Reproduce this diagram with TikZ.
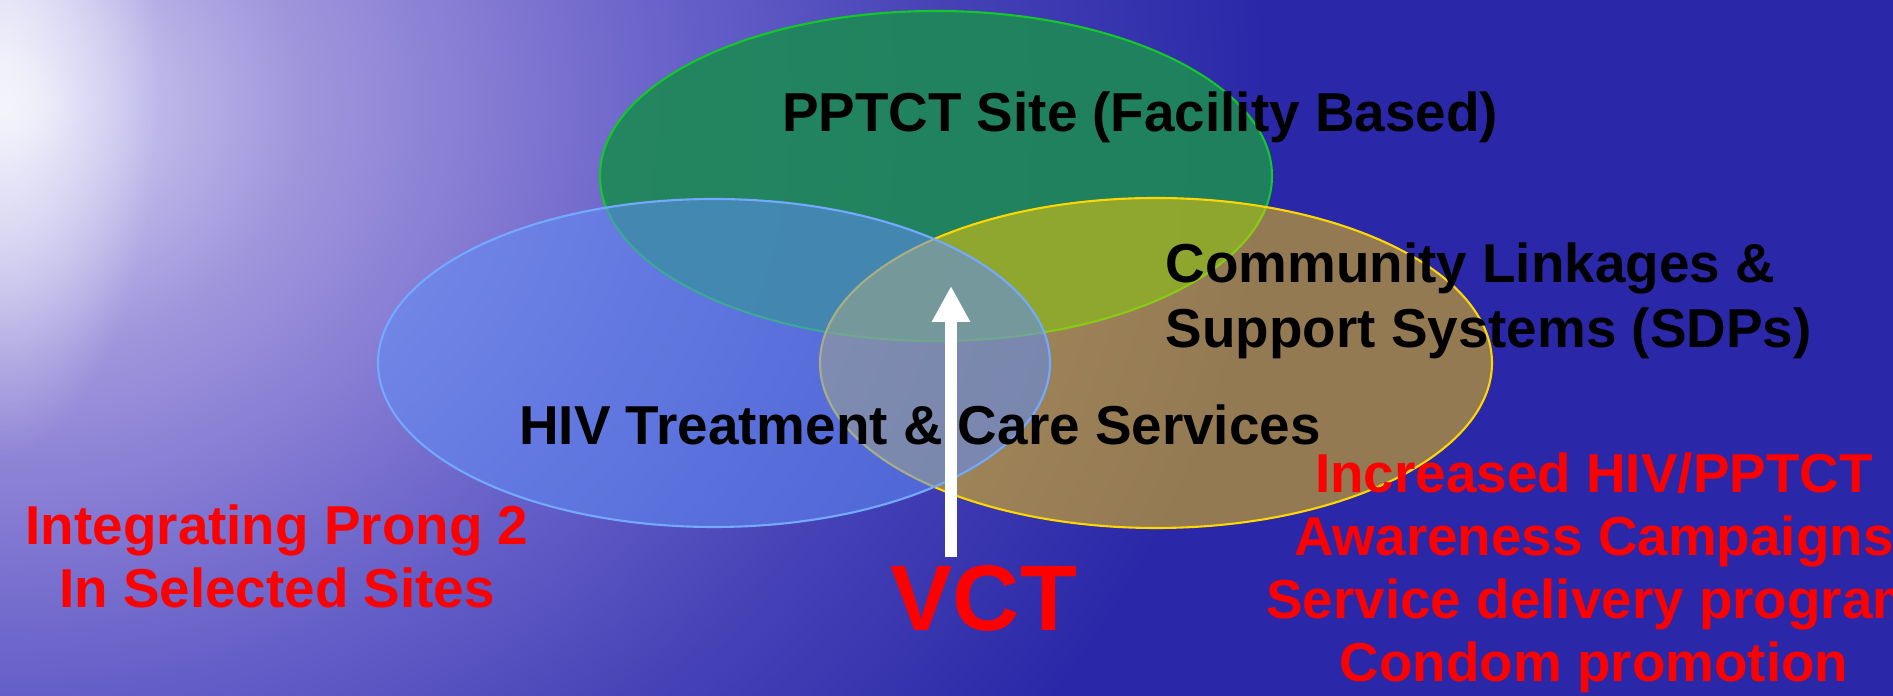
\documentclass[tikz,border=0pt]{standalone}
\usepackage{fontspec}
\setmainfont{Liberation Sans}
\usepackage{tikz}
\usetikzlibrary{arrows.meta, fadings}

\definecolor{sea}{RGB}{42,40,168}
\definecolor{glint}{RGB}{244,244,252}
\definecolor{hazeA}{RGB}{205,202,240}
\definecolor{hazeB}{RGB}{160,150,220}
\definecolor{hazeC}{RGB}{130,120,210}
\definecolor{hazeD}{RGB}{100,95,200}
\definecolor{hazeE}{RGB}{70,66,182}
\definecolor{siteg}{RGB}{30,136,88}
\definecolor{sitegl}{RGB}{20,200,40}
\definecolor{carebl}{RGB}{95,140,245}
\definecolor{carebll}{RGB}{115,170,255}
\definecolor{commy}{RGB}{255,205,0}
\definecolor{commyl}{RGB}{255,215,0}

% light on the water, top left (path edge sits at 25bp)
\pgfdeclareradialshading{glare}{\pgfpoint{0bp}{0bp}}{color(0bp)=(glint); color(1.6bp)=(hazeA); color(5.9bp)=(hazeB); color(10bp)=(hazeC); color(13.8bp)=(hazeD); color(18.8bp)=(hazeE); color(25bp)=(sea); color(50bp)=(sea)}
\tikzfading[name=glow, inner color=transparent!10, outer color=transparent!100]

\begin{document}
\begin{tikzpicture}
\useasboundingbox (0,0) rectangle (18.93,6.96);
\clip (0,0) rectangle (18.93,6.96);
\fill[sea] (0,0) rectangle (18.93,6.96);
\shade[shading=glare] (0,5.9) ellipse (12.67 and 10.67);
\fill[glint, path fading=glow] (0,6.2) ellipse (1.6 and 3.8);

% the three circles
\begin{scope}[line width=0.6pt]
\filldraw[fill=siteg, draw=sitegl, fill opacity=0.92] (9.36,5.20) ellipse (3.36 and 1.65);
\filldraw[fill=commy, draw=commyl, fill opacity=0.5] (11.56,3.33) ellipse (3.36 and 1.65);
\filldraw[fill=carebl, draw=carebll, fill opacity=0.55] (7.14,3.33) ellipse (3.36 and 1.64);
\end{scope}

\coordinate (foot) at (9.51,1.39);
\coordinate (tip) at (9.51,4.10);
\draw[white, line width=0.12cm, -{Triangle[width=0.36cm,length=0.36cm]}] (foot) -- (tip);

\begin{scope}[every node/.style={font=\bfseries\fontsize{15.6}{18.5}\selectfont, inner sep=0pt}]
\node[anchor=base] (site) at (11.40,5.64) {PPTCT Site (Facility Based)};
\node[anchor=base] (care) at (9.20,2.51) {HIV Treatment \& Care Services};
\node[anchor=base west, align=left] (comm) at (11.65,3.48) {Community Linkages \&\\Support Systems (SDPs)};
\end{scope}

\begin{scope}[every node/.style={font=\bfseries\fontsize{15.6}{18}\selectfont, text=red, inner sep=0pt, align=center}]
\node[anchor=base] (prong) at (2.77,0.88) {Integrating Prong 2\\In Selected Sites};
\node[anchor=base] (aware) at (15.94,0.14) {Increased HIV/PPTCT\\Awareness Campaigns\\Service delivery program\\Condom promotion};
\node[anchor=base, font=\bfseries\fontsize{26.5}{30}\selectfont] (vct) at (9.84,0.65) {VCT};
\end{scope}
\end{tikzpicture}
\end{document}
